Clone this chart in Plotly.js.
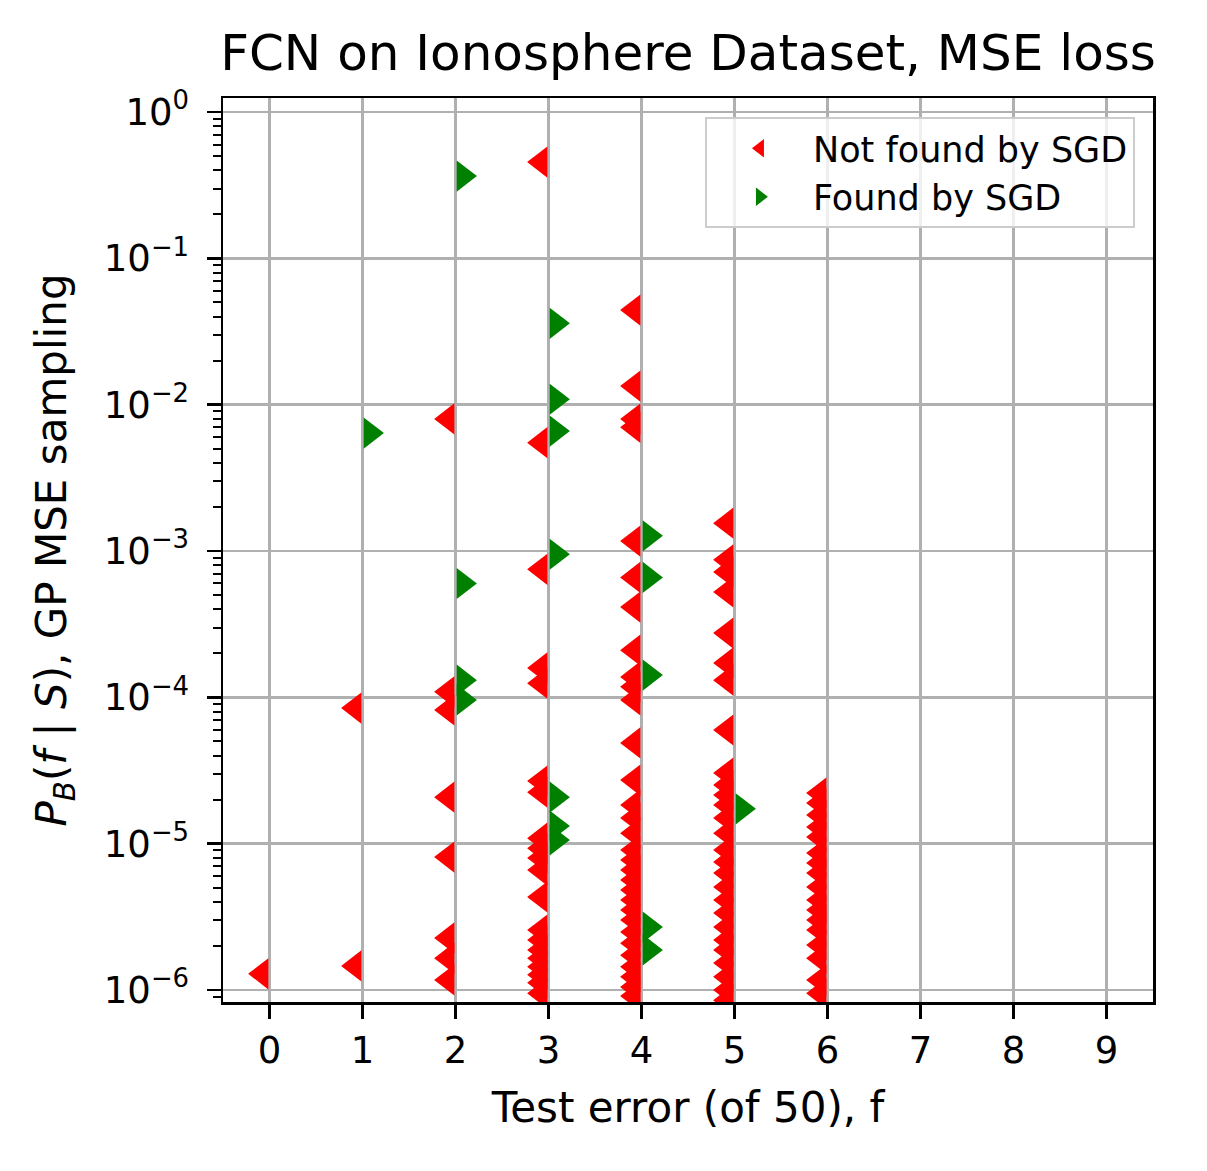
<!DOCTYPE html>
<html>
<head>
<meta charset="utf-8">
<script src="https://cdn.plot.ly/plotly-3.0.1.min.js"></script>
<style>html,body{margin:0;padding:0;background:#fff;}</style>
</head>
<body>
<div id="chart" style="width:1207px;height:1171px;"></div>
<script>
// ---- data ----
const testErrorTicks = [0, 1, 2, 3, 4, 5, 6, 7, 8, 9];

// P_B(f|S) values of functions NOT found by SGD, grouped by test error
const notFoundErr0 = [1.29e-6];
const notFoundErr1 = [8.45e-5, 1.46e-6];
const notFoundErr2 = [8.0e-3, 1.09e-4, 8.2e-5, 2.08e-5, 8.1e-6, 2.27e-6, 1.65e-6, 1.17e-6];
const notFoundErr3 = [0.455, 5.5e-3, 7.5e-4, 1.59e-4, 1.25e-4, 2.68e-5, 2.25e-5, 1.09e-5, 9.3e-6,
  7.98e-6, 6.6e-6, 4.32e-6, 2.57e-6, 2.2e-6, 1.88e-6, 1.65e-6, 1.44e-6, 1.27e-6, 1.12e-6, 9.5e-7];
const notFoundErr4 = [4.43e-2, 1.34e-2, 7.98e-3, 7.0e-3, 1.17e-3, 6.6e-4, 4.14e-4, 2.1e-4, 1.38e-4,
  1.18e-4, 9.6e-5, 4.88e-5, 2.72e-5, 1.84e-5, 1.5e-5, 1.18e-5, 9.05e-6, 7.73e-6, 6.6e-6, 5.65e-6,
  4.82e-6, 4.12e-6, 3.52e-6, 3.01e-6, 2.49e-6, 2.09e-6, 1.73e-6, 1.44e-6, 1.23e-6, 1.05e-6, 9.1e-7];
const notFoundErr5 = [1.55e-3, 8.7e-4, 7.2e-4, 5.25e-4, 2.75e-4, 1.72e-4, 1.31e-4, 5.98e-5, 3.04e-5,
  2.52e-5, 2.15e-5, 1.84e-5, 1.5e-5, 1.18e-5, 9.05e-6, 7.5e-6, 6.3e-6, 5.06e-6, 4.12e-6, 3.36e-6,
  2.69e-6, 2.2e-6, 1.88e-6, 1.53e-6, 1.23e-6, 1.0e-6, 8.5e-7];
const notFoundErr6 = [2.22e-5, 1.9e-5, 1.57e-5, 1.3e-5, 1.11e-5, 8.63e-6, 7.38e-6, 6.3e-6, 5.06e-6,
  4.12e-6, 3.52e-6, 3.01e-6, 2.57e-6, 2.03e-6, 1.65e-6, 1.17e-6, 9.5e-7];

// P_B(f|S) values of functions found by SGD, grouped by test error
const foundErr1 = [6.4e-3];
const foundErr2 = [0.365, 6.0e-4, 1.31e-4, 9.6e-5];
const foundErr3 = [3.6e-2, 1.09e-2, 6.6e-3, 9.5e-4, 2.08e-5, 1.32e-5, 1.06e-5];
const foundErr4 = [1.27e-3, 6.6e-4, 1.42e-4, 2.69e-6, 1.88e-6];
const foundErr5 = [1.73e-5];

const yTickExp = [-6, -5, -4, -3, -2, -1, 0];
const yTickText = ['10<sup>−6</sup>', '10<sup>−5</sup>', '10<sup>−4</sup>', '10<sup>−3</sup>',
  '10<sup>−2</sup>', '10<sup>−1</sup>', '10<sup>0</sup>'];

// ---- build traces ----
function collect(groups, shift) {
  const xs = [], ys = [];
  groups.forEach(g => g.vals.forEach(v => { xs.push(g.err + shift); ys.push(v); }));
  return {xs, ys};
}
const nf = collect([
  {err: 0, vals: notFoundErr0}, {err: 1, vals: notFoundErr1}, {err: 2, vals: notFoundErr2},
  {err: 3, vals: notFoundErr3}, {err: 4, vals: notFoundErr4}, {err: 5, vals: notFoundErr5},
  {err: 6, vals: notFoundErr6}], -0.085);
const fd = collect([
  {err: 1, vals: foundErr1}, {err: 2, vals: foundErr2}, {err: 3, vals: foundErr3},
  {err: 4, vals: foundErr4}, {err: 5, vals: foundErr5}], 0.085);

const traces = [
  {x: nf.xs, y: nf.ys, type: 'scatter', mode: 'markers', name: 'Not found by SGD',
   marker: {symbol: 'triangle-left', color: 'red', size: 27, line: {width: 0}}},
  {x: fd.xs, y: fd.ys, type: 'scatter', mode: 'markers', name: 'Found by SGD',
   marker: {symbol: 'triangle-right', color: 'green', size: 27, line: {width: 0}}}
];

const yTickVals = yTickExp.map(e => Math.pow(10, e));
const minorVals = [];
for (let e = -7; e <= 0; e++) for (let m = 2; m <= 9; m++) minorVals.push(m * Math.pow(10, e));

const layout = {
  width: 1207, height: 1171,
  margin: {l: 223, r: 54, t: 98, b: 169, pad: 0},
  paper_bgcolor: 'white', plot_bgcolor: 'white',
  font: {family: 'DejaVu Sans', color: 'black', size: 36},
  title: {text: 'FCN on Ionosphere Dataset, MSE loss', font: {size: 50},
          x: 0.5, xref: 'paper', xanchor: 'center', y: 1 - 52 / 1171, yref: 'container', yanchor: 'middle'},
  showlegend: true,
  legend: {x: 0.9806, xanchor: 'right', y: 0.979, yanchor: 'top',
           bgcolor: 'rgba(255,255,255,0.8)', bordercolor: '#cccccc', borderwidth: 2,
           font: {size: 35}, itemwidth: 96, tracegroupgap: 0},
  xaxis: {range: [-0.5, 9.5], tickmode: 'array', tickvals: testErrorTicks,
          ticks: 'outside', ticklen: 14, tickwidth: 2.5, tickcolor: 'black',
          showline: true, mirror: true, linewidth: 2.5, linecolor: 'black',
          showgrid: true, gridcolor: '#b0b0b0', gridwidth: 2.5, zeroline: false,
          tickfont: {size: 37},
          title: {text: 'Test error (of 50), f', font: {size: 42}, standoff: 22}},
  yaxis: {type: 'log', range: [-6.082, 0.096], tickmode: 'array', tickvals: yTickVals, ticktext: yTickText,
          ticks: 'outside', ticklen: 14, tickwidth: 2.5, tickcolor: 'black', ticklabelstandoff: 10,
          showline: true, mirror: true, linewidth: 2.5, linecolor: 'black',
          showgrid: true, gridcolor: '#b0b0b0', gridwidth: 2.5, zeroline: false,
          tickfont: {size: 37},
          minor: {tickmode: 'array', tickvals: minorVals, ticks: 'outside', ticklen: 8, tickwidth: 2,
                  tickcolor: 'black', showgrid: false},
          title: {text: '<i>P</i><sub><i>B</i></sub>(<i>f</i> | <i>S</i>), GP MSE sampling',
                  font: {size: 42}, standoff: 24}}
};

Plotly.newPlot('chart', traces, layout, {displayModeBar: false, staticPlot: true});
</script>
</body>
</html>
